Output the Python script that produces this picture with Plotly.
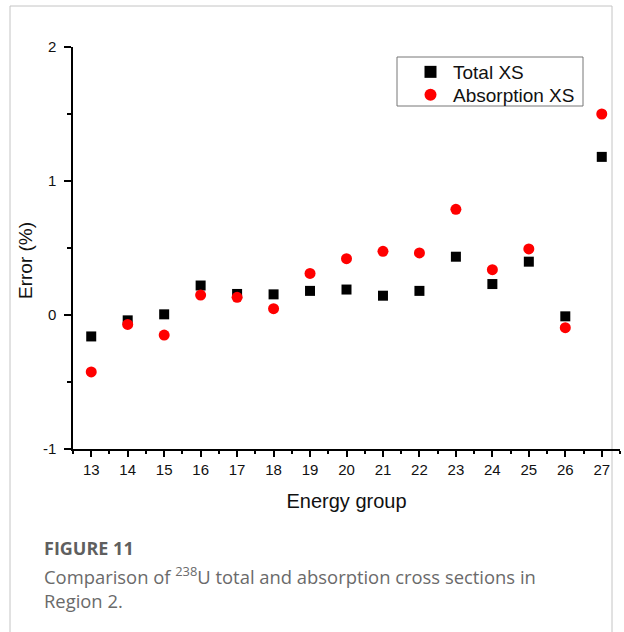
import plotly.graph_objects as go

groups = list(range(13, 28))
total_xs = [-0.16, -0.04, 0.005, 0.22, 0.157, 0.154, 0.18, 0.19, 0.144, 0.18, 0.435, 0.231, 0.398, -0.01, 1.18]
absorption_xs = [-0.425, -0.07, -0.15, 0.149, 0.132, 0.047, 0.31, 0.42, 0.475, 0.463, 0.789, 0.338, 0.493, -0.095, 1.5]
y_ticks = [-1, 0, 1, 2]
y_ticktext = ["-1", "0", "1", "2"]

W, H = 624, 632
L, R, T, B = 73, 4, 47, 183
pw, ph = W - L - R, H - T - B

def px(x):
    return (x - L) / pw

def py(y):
    return (H - B - y) / ph

fig = go.Figure()
fig.add_trace(go.Scatter(x=groups, y=total_xs, mode="markers", name="Total XS", legend="legend",
                         marker=dict(symbol="square", size=10, color="black")))
fig.add_trace(go.Scatter(x=groups, y=absorption_xs, mode="markers", name="Absorption XS", legend="legend2",
                         marker=dict(symbol="circle", size=11, color="#ff0000")))

leg_common = dict(xanchor="left", yanchor="middle", borderwidth=0, bgcolor="rgba(0,0,0,0)",
                  font=dict(size=19, color="#111"), itemsizing="constant", itemwidth=35)

fig.update_layout(
    width=W, height=H,
    margin=dict(l=L, r=R, t=T, b=B),
    paper_bgcolor="white", plot_bgcolor="white",
    font=dict(family="Liberation Sans, Arial, sans-serif", color="#111"),
    legend=dict(x=px(408), y=py(72), **leg_common),
    legend2=dict(x=px(408), y=py(95), **leg_common),
    showlegend=True,
)
fig.update_xaxes(range=[12.5, 27.5], tickmode="array", tickvals=groups,
                 ticks="outside", ticklen=6, tickwidth=1.5, tickcolor="black",
                 showline=True, linecolor="black", linewidth=1.5,
                 showgrid=False, zeroline=False,
                 tickfont=dict(size=15),
                 minor=dict(ticks="outside", ticklen=3, tickwidth=1.5, tickcolor="black",
                            tickmode="array", tickvals=[g + 0.5 for g in groups[:-1]] + [12.5, 27.5]),
                 title=dict(text="Energy group", font=dict(size=20), standoff=17))
fig.update_yaxes(range=[-1, 2], tickmode="array", tickvals=y_ticks, ticktext=y_ticktext,
                 ticks="outside", ticklen=7, tickwidth=1.5, tickcolor="black",
                 showline=True, linecolor="black", linewidth=1.5,
                 showgrid=False, zeroline=False,
                 tickfont=dict(size=15), ticklabelstandoff=5,
                 minor=dict(ticks="outside", ticklen=4, tickwidth=1.5, tickcolor="black",
                            tickmode="array", tickvals=[-0.5, 0.5, 1.5]))

# legend frame
fig.add_shape(type="rect", xref="paper", yref="paper",
              x0=px(397), x1=px(583), y0=py(106), y1=py(57),
              line=dict(color="#777", width=1), fillcolor="white", layer="below")

# y-axis title placed as in the reference (slightly below plot centre)
fig.add_annotation(xref="paper", yref="paper", x=px(25), y=py(261), xanchor="center", yanchor="middle",
                   text="Error (%)", textangle=-90, showarrow=False,
                   font=dict(size=19, color="#111"))

# card border
fig.add_shape(type="rect", xref="paper", yref="paper",
              x0=px(10), x1=px(612), y0=py(640), y1=py(6),
              line=dict(color="#c4c4c4", width=1), fillcolor="rgba(0,0,0,0)", layer="below")

fig.add_annotation(xref="paper", yref="paper", x=px(42), y=py(548), xanchor="left", yanchor="middle",
                   text="<b>FIGURE 11</b>", showarrow=False,
                   font=dict(family="Open Sans, Lato, sans-serif", size=18, color="#5f5f5f"))
fig.add_annotation(xref="paper", yref="paper", x=px(42), y=py(587), xanchor="left", yanchor="middle",
                   text="Comparison of <sup>238</sup>U total and absorption cross sections in<br>Region 2.",
                   showarrow=False, align="left",
                   font=dict(family="Open Sans, Lato, sans-serif", size=18.4, color="#6a6a6a"))

fig.write_html("out.html")
